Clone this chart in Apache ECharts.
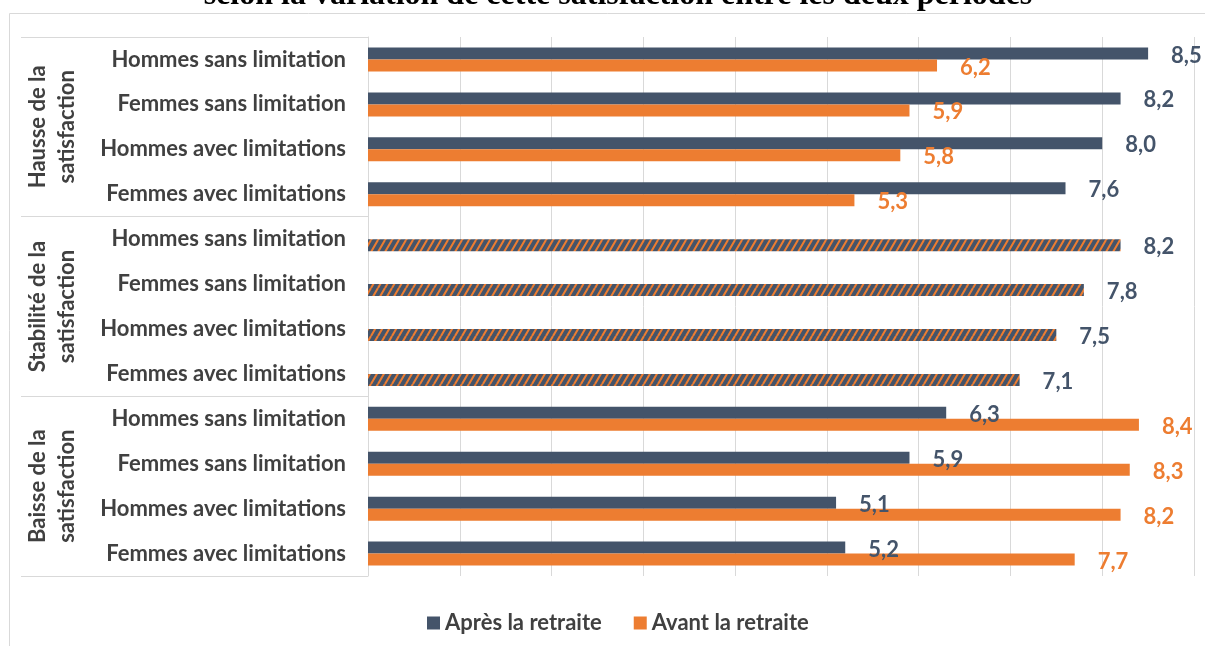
<!DOCTYPE html>
<html>
<head>
<meta charset="utf-8">
<script src="https://cdn.jsdelivr.net/npm/echarts@6/dist/echarts.min.js"></script>
<style>
    html, body { margin: 0; padding: 0; background: #fff; }
    #satisfaction { width: 1205px; height: 646px; }
</style>
</head>
<body>
<div id="satisfaction"></div>
<script>
// rows, top to bottom
var categories = [
    'Hommes sans limitation', 'Femmes sans limitation', 'Hommes avec limitations', 'Femmes avec limitations',
    'Hommes sans limitation', 'Femmes sans limitation', 'Hommes avec limitations', 'Femmes avec limitations',
    'Hommes sans limitation', 'Femmes sans limitation', 'Hommes avec limitations', 'Femmes avec limitations'
];
var groups = ['Hausse de la\nsatisfaction', 'Stabilité de la\nsatisfaction', 'Baisse de la\nsatisfaction'];
// null = same score before and after (drawn as one hatched bar)
var apres = [8.5, 8.2, 8.0, 7.6, null, null, null, null, 6.3, 5.9, 5.1, 5.2];
var avant = [6.2, 5.9, 5.8, 5.3, 8.2, 7.8, 7.5, 7.1, 8.4, 8.3, 8.2, 7.7];
var xTicks = [0, 1, 2, 3, 4, 5, 6, 7, 8, 9];

var DARK = '#44546A', ORANGE = '#ED7D31', TEXT = '#404040', GRID = '#D9D9D9';
var FONT = 'Lato';
var SIZE = 22;

function hatch() {
    var c = document.createElement('canvas');
    c.width = 7;
    c.height = 12;
    var g = c.getContext('2d');
    g.fillStyle = DARK;
    g.fillRect(0, 0, 7, 12);
    g.strokeStyle = ORANGE;
    g.lineWidth = 2.1;
    g.beginPath();
    g.moveTo(0, 12); g.lineTo(7, 0);
    g.moveTo(-7, 12); g.lineTo(0, 0);
    g.moveTo(7, 12); g.lineTo(14, 0);
    g.stroke();
    return c;
}
var stripes = {image: hatch(), repeat: 'repeat'};

function fmt(p) {
    return p.value == null ? '' : p.value.toFixed(1).replace('.', ',');
}

var avantData = avant.map(function (v, i) {
    if (apres[i] == null) {
        return {value: v, itemStyle: {color: stripes}, label: {color: DARK}};
    }
    return v;
});

var myChart = echarts.init(document.getElementById('satisfaction'));
var option = {
    animation: false,
    title: {
        text: 'selon la variation de cette satisfaction entre les deux périodes',
        left: 613,
        textAlign: 'center',
        top: -25,
        textStyle: {
            fontFamily: 'Liberation Serif',
            fontWeight: 'bold',
            fontSize: 32,
            color: '#000'
        }
    },
    graphic: [{
        type: 'rect',
        silent: true,
        shape: {x: 9.5, y: 13.5, width: 1300, height: 700},
        style: {fill: 'none', stroke: GRID, lineWidth: 1}
    }],
    legend: {
        data: ['Après la retraite', 'Avant la retraite'],
        left: 422,
        top: 607,
        icon: 'rect',
        itemWidth: 13,
        itemHeight: 13,
        itemGap: 32,
        textStyle: {fontFamily: FONT, fontWeight: 'bold', fontSize: SIZE, color: TEXT}
    },
    grid: {left: 368, right: 11, top: 37, bottom: 70},
    xAxis: {
        type: 'value',
        min: xTicks[0],
        max: xTicks[xTicks.length - 1],
        interval: 1,
        axisLabel: {show: false},
        axisLine: {show: false},
        axisTick: {show: false},
        splitLine: {lineStyle: {color: GRID, width: 1}}
    },
    yAxis: [{
        type: 'category',
        data: categories,
        inverse: true,
        axisTick: {show: false},
        axisLine: {lineStyle: {color: GRID}},
        axisLabel: {
            margin: 22,
            fontFamily: FONT,
            fontWeight: 'bold',
            fontSize: SIZE,
            color: TEXT
        }
    }, {
        type: 'category',
        data: groups,
        inverse: true,
        position: 'left',
        axisLine: {show: false},
        axisTick: {show: true, length: 347, lineStyle: {color: GRID}},
        axisLabel: {
            rotate: 90,
            margin: 287,
            interval: 0,
            fontFamily: FONT,
            fontWeight: 'bold',
            fontSize: SIZE,
            lineHeight: 29,
            color: TEXT
        }
    }],
    series: [{
        name: 'Après la retraite',
        type: 'bar',
        data: apres,
        barWidth: 12,
        barGap: '0%',
        itemStyle: {color: DARK},
        label: {
            show: true,
            position: 'right',
            distance: 23,
            offset: [0, 2],
            formatter: fmt,
            fontFamily: FONT,
            fontWeight: 'bold',
            fontSize: SIZE,
            color: DARK
        }
    }, {
        name: 'Avant la retraite',
        type: 'bar',
        data: avantData,
        barWidth: 12,
        barGap: '0%',
        itemStyle: {color: ORANGE},
        label: {
            show: true,
            position: 'right',
            distance: 23,
            offset: [0, 2],
            formatter: fmt,
            fontFamily: FONT,
            fontWeight: 'bold',
            fontSize: SIZE,
            color: ORANGE
        }
    }]
};
myChart.setOption(option);
window.addEventListener('resize', function () {
    myChart.resize();
});
</script>
</body>
</html>
